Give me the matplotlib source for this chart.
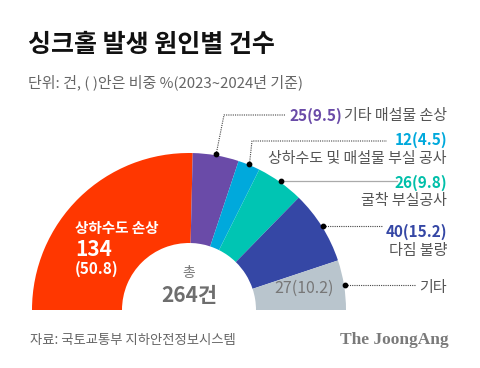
import matplotlib
matplotlib.use('Agg')
import matplotlib.pyplot as plt
import numpy as np

plt.rcParams['font.family'] = ['Noto Sans CJK KR', 'DejaVu Sans']

# Data: sinkhole causes (2023~2024)
causes = ['상하수도 손상', '기타 매설물 손상', '상하수도 및 매설물 부실 공사',
          '굴착 부실공사', '다짐 불량', '기타']
counts = [134, 25, 12, 26, 40, 27]
shares = [50.8, 9.5, 4.5, 9.8, 15.2, 10.2]
colors = ['#ff3700', '#6a4ba8', '#00a9dc', '#00c5b3', '#3547a5', '#b9c5cd']
total = sum(counts)

fig = plt.figure(figsize=(4.8, 3.68), dpi=100)
ax = fig.add_axes([0, 0, 1, 1])

# half donut, pixel coordinates (y flipped)
cx, cy, r_out, r_in = 189, 310, 157, 67
fracs = np.array(counts) / (2 * total)
ax.pie(fracs, normalize=False, colors=colors, startangle=180, counterclock=True,
       radius=r_out, center=(cx, cy),
       wedgeprops=dict(width=r_out - r_in, linewidth=0))
ax.set_xlim(0, 480)
ax.set_ylim(368, 0)
ax.axis('off')

# mid angles of each slice for leader dots
cum = np.cumsum(counts) - np.array(counts) / 2
ang = np.radians(180 - 180 * cum / total)
dot_x = cx + (r_out + 1) * np.cos(ang)
dot_y = cy - (r_out + 1) * np.sin(ang)

# title / subtitle
ax.text(28, 45, '싱크홀 발생 원인별 건수', fontsize=18, fontweight='bold',
        color='#111111', va='center', ha='left')
ax.text(28, 82, '단위: 건, ( )안은 비중 %(2023~2024년 기준)', fontsize=10.8,
        color='#666666', va='center', ha='left')

lc = '#444444'
lab = 10.8
# 기타 매설물 손상
ax.plot([dot_x[1], 224, 285], [dot_y[1], 115, 115], color=lc, lw=0.8, ls=(0, (1, 1)))
ax.text(342, 116, f'{counts[1]}({shares[1]})', fontsize=11, fontweight='bold',
        color=colors[1], va='center', ha='right')
ax.text(447, 116, causes[1], fontsize=lab, color='#555555', va='center', ha='right')
# 상하수도 및 매설물 부실 공사
ax.plot([dot_x[2], 252, 387], [dot_y[2], 141, 141], color=lc, lw=0.8, ls=(0, (1, 1)))
ax.text(447, 140, f'{counts[2]}({shares[2]})', fontsize=11, fontweight='bold',
        color=colors[2], va='center', ha='right')
ax.text(447, 159, causes[2], fontsize=lab, color='#555555', va='center', ha='right')
# 굴착 부실공사
ax.plot([dot_x[3], 397], [dot_y[3], dot_y[3]], color='#aaaaaa', lw=0.9)
ax.text(447, 183, f'{counts[3]}({shares[3]})', fontsize=11, fontweight='bold',
        color='#00bfa9', va='center', ha='right')
ax.text(447, 201, causes[3], fontsize=lab, color='#555555', va='center', ha='right')
# 다짐 불량
ax.plot([dot_x[4], 383], [dot_y[4], dot_y[4]], color=lc, lw=0.8, ls=(0, (1, 1)))
ax.text(447, 232, f'{counts[4]}({shares[4]})', fontsize=11, fontweight='bold',
        color=colors[4], va='center', ha='right')
ax.text(447, 251, causes[4], fontsize=lab, color='#555555', va='center', ha='right')
# 기타
ax.plot([dot_x[5], 415], [dot_y[5], dot_y[5]], color=lc, lw=0.8, ls=(0, (1, 1)))
ax.text(447, 288, causes[5], fontsize=lab, color='#555555', va='center', ha='right')
ax.text(304, 288, f'{counts[5]}({shares[5]})', fontsize=11.5, fontweight='medium',
        color='#777777', va='center', ha='center')

ax.scatter(dot_x[1:], dot_y[1:], s=10, color='black', zorder=5)

# inside red slice
ax.text(75, 228, causes[0], fontsize=10.5, fontweight='bold', color='white',
        va='center', ha='left')
ax.text(75, 249, str(counts[0]), fontsize=15, fontweight='bold', color='white',
        va='center', ha='left')
ax.text(75, 269, f'({shares[0]})', fontsize=11, fontweight='bold', color='white',
        va='center', ha='left')

# center total
ax.text(cx, 273, '총', fontsize=10, color='#777777', va='center', ha='center')
ax.text(cx, 296, f'{total}건', fontsize=15, fontweight='bold', color='#6e6e6e',
        va='center', ha='center')

# footer
ax.text(30, 340, '자료: 국토교통부 지하안전정보시스템', fontsize=9.6, color='#666666',
        va='center', ha='left')
ax.text(449, 340, 'The JoongAng', fontsize=12.5, fontweight='bold', color='#7a7a7a',
        family='Liberation Serif', va='center', ha='right')

fig.savefig('out.png', dpi=100)
